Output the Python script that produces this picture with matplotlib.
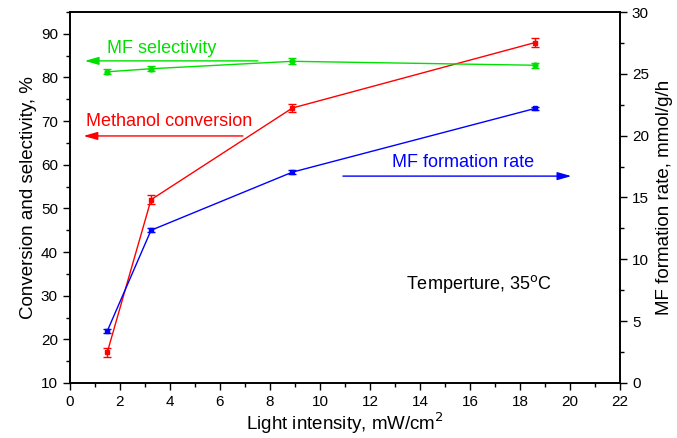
import matplotlib.pyplot as plt
from matplotlib.ticker import MultipleLocator

plt.rcParams['font.family'] = ['Liberation Sans', 'DejaVu Sans']

# light intensity, mW/cm2
intensity = [1.5, 3.25, 8.9, 18.6]
# methanol conversion, %
conversion = [17.0, 52.0, 73.0, 88.0]
conversion_err = [1.0, 1.0, 0.9, 1.0]
# MF selectivity, %
selectivity = [81.3, 82.0, 83.7, 82.8]
selectivity_err = [0.6, 0.6, 0.7, 0.6]
# MF formation rate, mmol/g/h
rate = [4.2, 12.35, 17.05, 22.2]
rate_err = [0.15, 0.15, 0.15, 0.12]

fig = plt.figure(figsize=(6.77, 4.38), dpi=100)
ax1 = fig.add_axes([0.103, 0.1256, 0.813, 0.847])
ax2 = ax1.twinx()

ax1.errorbar(intensity, conversion, yerr=conversion_err, color='#ff0000', lw=1,
             marker='s', ms=3.5, capsize=3, elinewidth=1)
ax1.errorbar(intensity, selectivity, yerr=selectivity_err, color='#00e000', lw=1,
             marker='o', ms=3.5, capsize=3, elinewidth=1)
ax2.errorbar(intensity, rate, yerr=rate_err, color='#0000ff', lw=1,
             marker='s', ms=3.5, capsize=3, elinewidth=1)

ax1.set_xlim(0, 22)
ax1.set_ylim(10, 95)
ax2.set_ylim(0, 30)

ax1.xaxis.set_major_locator(MultipleLocator(2))
ax1.xaxis.set_minor_locator(MultipleLocator(1))
ax1.yaxis.set_major_locator(MultipleLocator(10))
ax1.yaxis.set_minor_locator(MultipleLocator(5))
ax2.yaxis.set_major_locator(MultipleLocator(5))
ax2.yaxis.set_minor_locator(MultipleLocator(2.5))

for ax in (ax1, ax2):
    ax.tick_params(which='major', length=5, width=1, labelsize=11, direction='out')
    ax.tick_params(which='minor', length=3, width=1, direction='out')
    for s in ax.spines.values():
        s.set_linewidth(1.2)

ax1.set_xlabel('Light intensity, mW/cm$^2$', fontsize=13.5, labelpad=1)
ax1.set_ylabel('Conversion and selectivity, %', fontsize=13.5, labelpad=3)
ax2.set_ylabel('MF formation rate, mmol/g/h', fontsize=13.5, labelpad=5)

# annotations with arrows
arrow = '-|>,head_length=0.7,head_width=0.2'
ax1.text(1.48, 85.6, 'MF selectivity', color='#00e000', fontsize=13)
ax1.annotate('', xy=(0.6, 83.8), xytext=(7.52, 83.8),
             arrowprops=dict(arrowstyle=arrow, color='#00e000', lw=1, mutation_scale=12,
                             shrinkA=0, shrinkB=0))
ax1.text(0.64, 68.9, 'Methanol conversion', color='#ff0000', fontsize=13)
ax1.annotate('', xy=(0.55, 66.6), xytext=(6.92, 66.6),
             arrowprops=dict(arrowstyle=arrow, color='#ff0000', lw=1, mutation_scale=12,
                             shrinkA=0, shrinkB=0))
ax1.text(12.9, 59.5, 'MF formation rate', color='#0000ff', fontsize=13)
ax1.annotate('', xy=(20.05, 57.4), xytext=(10.92, 57.4),
             arrowprops=dict(arrowstyle=arrow, color='#0000ff', lw=1, mutation_scale=12,
                             shrinkA=0, shrinkB=0))
ax1.text(13.45, 31.5, 'Temperture, 35$^{\\rm o}$C', color='black', fontsize=13)

fig.savefig('out.png', dpi=100)
